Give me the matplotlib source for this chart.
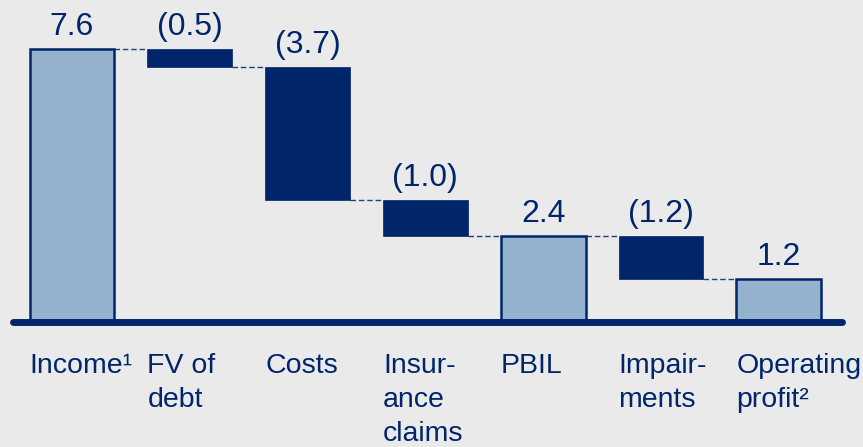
import matplotlib.pyplot as plt

categories = ["Income\u00b9", "FV of\ndebt", "Costs", "Insur-\nance\nclaims", "PBIL", "Impair-\nments", "Operating\nprofit\u00b2"]
values = [7.6, -0.5, -3.7, -1.0, 2.4, -1.2, 1.2]
is_total = [True, False, False, False, True, False, True]
value_labels = ["7.6", "(0.5)", "(3.7)", "(1.0)", "2.4", "(1.2)", "1.2"]

navy = "#00256A"
light = "#94B2CD"
bg = "#EAEAEA"

plt.rcParams['font.family'] = ['Liberation Sans', 'DejaVu Sans']

fig = plt.figure(figsize=(8.63, 4.47), dpi=100, facecolor=bg)
ax = fig.add_axes([0, 0, 1, 1])
ax.set_facecolor(bg)
ax.axis('off')

width = 0.72
running = 0.0
prev_level = None
for i, (v, total) in enumerate(zip(values, is_total)):
    if total:
        bottom, top = 0, v
        ax.bar(i, v, width=width, color=light, edgecolor=navy, linewidth=1.8, zorder=2)
        running = v
    else:
        top = running
        bottom = running + v
        ax.bar(i, -v, bottom=bottom, width=width, color=navy, edgecolor=navy, linewidth=0.5, zorder=2)
        running = bottom
    # dashed connector from previous bar
    if prev_level is not None:
        ax.plot([i - 1 + width / 2, i - width / 2], [prev_level, prev_level],
                color=navy, linestyle=(0, (4, 2)), linewidth=1.0, alpha=0.85, zorder=1)
    prev_level = running
    ax.text(i, top + 0.4, value_labels[i], ha='center', va='baseline',
            fontsize=23, color=navy)

# baseline
ax.plot([-0.5, 6.54], [0, 0], color=navy, linewidth=5, solid_capstyle='round', zorder=3)

for i, c in enumerate(categories):
    ax.text(i - width / 2, -0.85, c, ha='left', va='top', fontsize=20.5,
            color=navy, linespacing=1.42)

ax.set_xlim(-0.611, 6.715)
ax.set_ylim(-3.48, 8.97)

fig.savefig("out.png", dpi=100, facecolor=bg)
